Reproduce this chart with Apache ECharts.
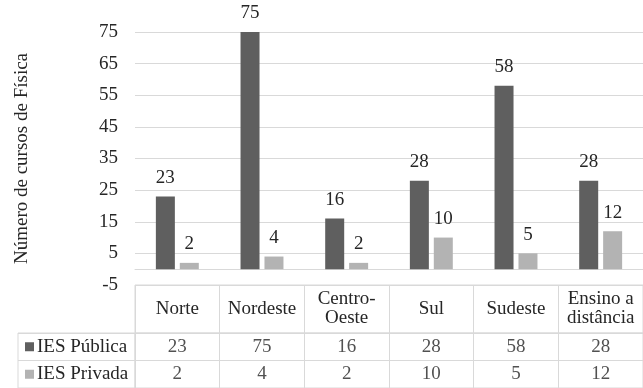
<!DOCTYPE html>
<html>
<head>
<meta charset="utf-8">
<script src="https://cdn.jsdelivr.net/npm/echarts@6/dist/echarts.min.js"></script>
<style>
  html, body { margin: 0; padding: 0; background: #fff; }
  #chart { width: 643px; height: 388px; }
</style>
</head>
<body>
<div id="chart"></div>
<script>
// dados do gráfico
const categories = ['Norte', 'Nordeste', 'Centro-\nOeste', 'Sul', 'Sudeste', 'Ensino a\ndistância'];
const seriesNames = ['IES Pública', 'IES Privada'];
const publica = [23, 75, 16, 28, 58, 28];
const privada = [2, 4, 2, 10, 5, 12];
const yTicks = { min: -5, max: 75, interval: 10 };

const FONT = 'Liberation Serif';
const TXT = '#262626';
const LINE = '#d9d9d9';
const colors = ['#5f5f5f', '#b3b3b3'];

// células da tabela (linha 0 = pública, linha 1 = privada)
const cells = [];
publica.forEach((v, i) => cells.push([i, 0, v]));
privada.forEach((v, i) => cells.push([i, 1, v]));

const chart = echarts.init(document.getElementById('chart'));

const barLabel = {
    show: true,
    position: 'top',
    distance: 9,
    fontFamily: FONT,
    fontSize: 19,
    color: TXT
};

chart.setOption({
    animation: false,
    textStyle: { fontFamily: FONT },
    grid: [
        { left: 135, right: 0, top: 32, height: 253 },
        { left: 135, right: 0, top: 285, height: 48, show: true, borderColor: LINE, borderWidth: 1 },
        { left: 135, right: 0, top: 333, height: 58, show: true, borderColor: LINE, borderWidth: 1 },
        { left: 18, width: 117, top: 333, height: 58, show: true, borderColor: LINE, borderWidth: 1 }
    ],
    xAxis: [
        {
            gridIndex: 0, type: 'category', data: categories,
            axisLine: { onZero: true, lineStyle: { color: LINE, width: 1 } },
            axisTick: { show: false }, axisLabel: { show: false }
        },
        {
            gridIndex: 1, type: 'category', data: categories,
            axisLine: { show: false }, axisTick: { show: false },
            splitLine: { show: true, lineStyle: { color: LINE } },
            axisLabel: {
                inside: true, margin: 24, verticalAlign: 'middle', interval: 0,
                fontFamily: FONT, fontSize: 19, lineHeight: 19, color: TXT
            }
        },
        {
            gridIndex: 2, type: 'category', data: categories,
            axisLine: { show: false }, axisTick: { show: false }, axisLabel: { show: false },
            splitLine: { show: true, lineStyle: { color: LINE } }
        },
        { gridIndex: 3, type: 'value', show: false }
    ],
    yAxis: [
        {
            gridIndex: 0, type: 'value',
            min: yTicks.min, max: yTicks.max, interval: yTicks.interval,
            name: 'Número de cursos de Física',
            nameLocation: 'middle', nameGap: 103,
            nameTextStyle: { fontFamily: FONT, fontSize: 19, color: TXT },
            axisLine: { show: false }, axisTick: { show: false },
            axisLabel: { margin: 17, fontFamily: FONT, fontSize: 19, color: TXT },
            splitLine: { lineStyle: { color: LINE } }
        },
        { gridIndex: 1, type: 'value', show: false },
        {
            gridIndex: 2, type: 'category', data: seriesNames, inverse: true,
            axisLine: { show: false }, axisTick: { show: false }, axisLabel: { show: false },
            splitLine: { show: true, lineStyle: { color: LINE } }
        },
        {
            gridIndex: 3, type: 'category', data: seriesNames, inverse: true,
            axisLine: { show: false }, axisTick: { show: false },
            splitLine: { show: true, lineStyle: { color: LINE } },
            axisLabel: {
                inside: true, margin: 7, align: 'left',
                formatter: (v, i) => '{s' + i + '|}{t|' + v + '}',
                rich: {
                    s0: { width: 9, height: 9, backgroundColor: colors[0] },
                    s1: { width: 9, height: 9, backgroundColor: colors[1] },
                    t: { fontFamily: FONT, fontSize: 19, color: TXT, padding: [0, 0, 0, 3] }
                }
            }
        }
    ],
    series: [
        {
            name: seriesNames[0], type: 'bar', xAxisIndex: 0, yAxisIndex: 0,
            data: publica, barWidth: 19, barGap: '26%',
            itemStyle: { color: colors[0] }, label: barLabel
        },
        {
            name: seriesNames[1], type: 'bar', xAxisIndex: 0, yAxisIndex: 0,
            data: privada, barWidth: 19, barGap: '26%',
            itemStyle: { color: colors[1] }, label: barLabel
        },
        {
            type: 'scatter', xAxisIndex: 2, yAxisIndex: 2,
            data: cells, symbolSize: 1,
            itemStyle: { color: 'rgba(0,0,0,0)' },
            label: {
                show: true, position: 'inside',
                formatter: p => String(p.value[2]),
                fontFamily: FONT, fontSize: 19, color: TXT
            }
        }
    ]
});
</script>
</body>
</html>
